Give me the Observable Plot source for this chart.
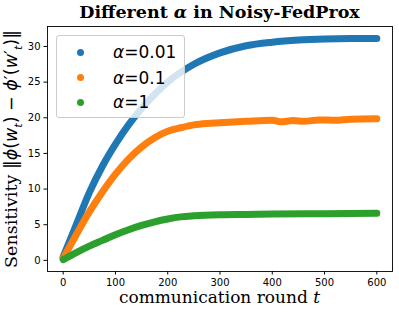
<!DOCTYPE html>
<html>
<head>
<meta charset="utf-8">
<script src="https://cdn.jsdelivr.net/npm/d3@7"></script>
<script src="https://cdn.jsdelivr.net/npm/@observablehq/plot@0.6"></script>
<style>
  html, body { margin: 0; padding: 0; background: white; }
  #fig { position: relative; width: 399px; height: 313px; overflow: hidden; }
  .title { position: absolute; left: 47px; width: 345px; top: 3px; text-align: center; line-height: 18px;
           font-family: "DejaVu Serif"; font-weight: bold; font-size: 17.5px; white-space: nowrap; }
  .xlabel { position: absolute; left: 47px; width: 345px; top: 290px; text-align: center; line-height: 14px;
            font-family: "DejaVu Serif"; font-size: 17px; white-space: nowrap; }
  .ylabel { position: absolute; left: 15px; top: 149px; transform: translate(-50%, -50%) rotate(-90deg);
            font-family: "DejaVu Serif"; font-size: 17.5px; white-space: nowrap; line-height: 20px; }
  .m { font-family: "DejaVu Sans"; }
  .legend { position: absolute; left: 56px; top: 35px; width: 127px; height: 81px;
            background: rgba(255,255,255,0.8); border: 1px solid #cccccc; border-radius: 3px; }
  .item { position: absolute; left: 0; height: 20px; font-family: "DejaVu Sans"; font-size: 17px; line-height: 20px; white-space: nowrap; }
  .dot { position: absolute; left: 20px; top: 6.5px; width: 7px; height: 7px; border-radius: 50%; }
  .lab { position: absolute; left: 56px; top: 0; }
</style>
</head>
<body>
<div id="fig"></div>
<script>
const seriesNames = ["α=0.01", "α=0.1", "α=1"];
const seriesColors = ["#1f77b4", "#ff7f0e", "#2ca02c"];

const tBlue = [0, 25, 50, 75, 100, 125, 150, 175, 200, 250, 300, 350, 400, 450, 500, 550, 600];
const vBlue = [0.5, 5.0, 9.5, 13.2, 16.3, 19.0, 21.3, 23.3, 25.0, 27.5, 29.1, 30.1, 30.6, 30.9, 31.05, 31.1, 31.1];

const tOrange = [0, 25, 50, 75, 100, 125, 150, 175, 200, 225, 250, 275, 300, 350, 400, 415, 440, 460, 490, 520, 550, 600];
const vOrange = [0.3, 3.6, 6.8, 9.6, 12.1, 14.2, 15.9, 17.2, 18.1, 18.6, 19.0, 19.2, 19.3, 19.5, 19.65, 19.45, 19.6, 19.5, 19.7, 19.65, 19.8, 19.85];

const tGreen = [0, 25, 50, 75, 100, 125, 150, 175, 200, 225, 250, 300, 350, 400, 500, 600];
const vGreen = [0.1, 1.1, 2.0, 2.8, 3.6, 4.3, 4.9, 5.4, 5.8, 6.1, 6.25, 6.4, 6.45, 6.5, 6.55, 6.6];

const xTicks = [0, 100, 200, 300, 400, 500, 600];
const yTicks = [0, 5, 10, 15, 20, 25, 30];

const toRows = (ts, vs, s) => ts.map((t, i) => ({t, v: vs[i], s}));
const blue = toRows(tBlue, vBlue, seriesNames[0]);
const orange = toRows(tOrange, vOrange, seriesNames[1]);
const green = toRows(tGreen, vGreen, seriesNames[2]);

const lineOpts = (c) => ({x: "t", y: "v", stroke: c, strokeWidth: 7, strokeLinecap: "round", strokeLinejoin: "round", curve: "monotone-x"});

const chart = Plot.plot({
  width: 399, height: 313,
  marginLeft: 47, marginRight: 7, marginTop: 26, marginBottom: 42,
  style: {fontFamily: "DejaVu Sans", fontSize: "10px", color: "black", background: "white"},
  x: {domain: [-30, 630]},
  y: {domain: [-1.56, 32.8]},
  marks: [
    Plot.line(blue, lineOpts(seriesColors[0])),
    Plot.line(orange, lineOpts(seriesColors[1])),
    Plot.line(green, lineOpts(seriesColors[2])),
    Plot.axisX({ticks: xTicks, tickSize: 3.5, tickPadding: 3.5, label: null, tickFormat: d => String(d)}),
    Plot.axisY({ticks: yTicks, tickSize: 3.5, tickPadding: 3.5, label: null, tickFormat: d => String(d)}),
    Plot.frame({stroke: "black", strokeWidth: 0.9})
  ]
});
const fig = document.getElementById("fig");
fig.appendChild(chart);

const add = (cls, html) => { const d = document.createElement("div"); d.className = cls; d.innerHTML = html; fig.appendChild(d); return d; };
add("title", 'Different <i>α</i> in Noisy-FedProx');
add("xlabel", 'communication round <i>t</i>');
add("ylabel", 'Sensitivity <span class="m">‖<i>ϕ</i>(<i>w</i><sub style="font-size:11px"><i>t</i></sub>) − <i>ϕ</i>′(<i>w</i>′<sub style="font-size:11px"><i>t</i></sub>)‖</span>');
const leg = add("legend", "");
const rowsY = [6, 31.5, 56];
seriesNames.forEach((n, i) => {
  const it = document.createElement("div");
  it.className = "item";
  it.style.top = rowsY[i] + "px";
  it.innerHTML = `<span class="dot" style="background:${seriesColors[i]}"></span><span class="lab"><i>α</i>=${n.slice(2)}</span>`;
  leg.appendChild(it);
});
</script>
</body>
</html>
